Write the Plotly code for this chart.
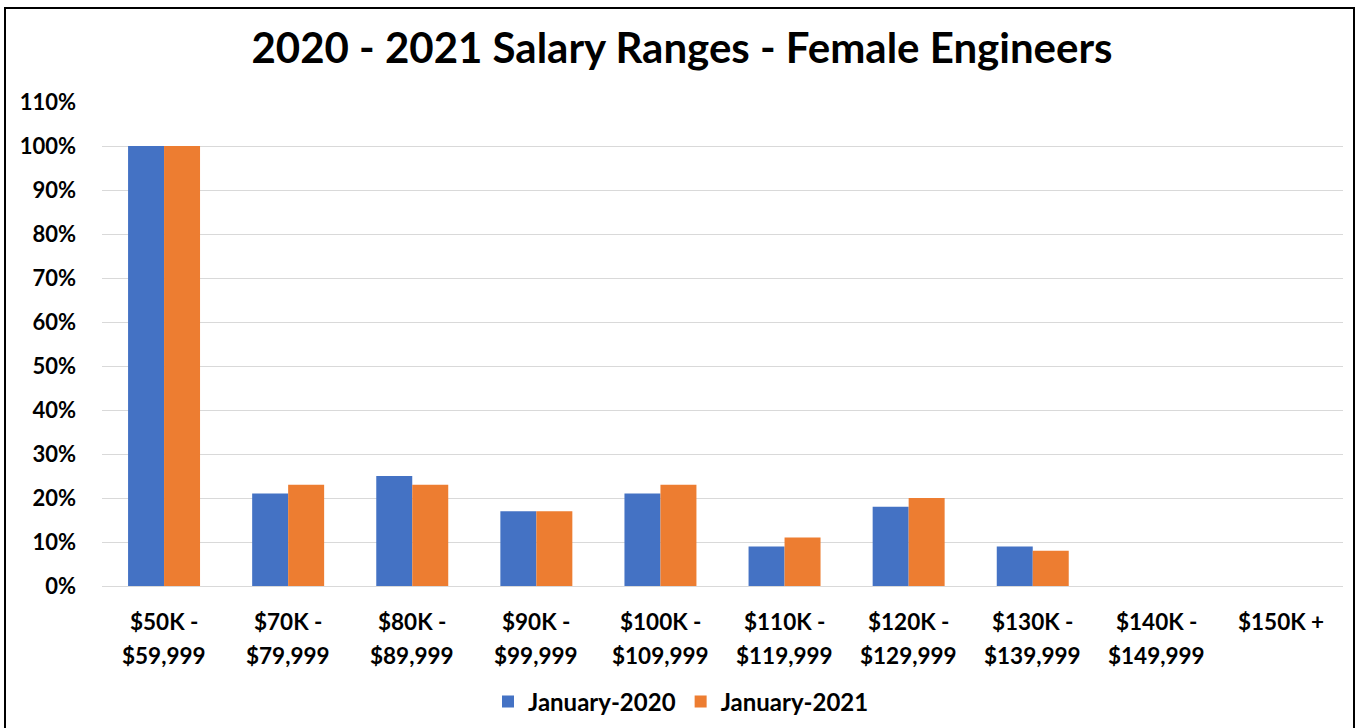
import plotly.graph_objects as go

categories = ["$50K - $59,999", "$70K - $79,999", "$80K - $89,999", "$90K - $99,999",
              "$100K - $109,999", "$110K - $119,999", "$120K - $129,999",
              "$130K - $139,999", "$140K - $149,999", "$150K +"]
label_line1 = ["$50K -", "$70K -", "$80K -", "$90K -", "$100K -", "$110K -",
               "$120K -", "$130K -", "$140K -", "$150K +"]
label_line2 = ["$59,999", "$79,999", "$89,999", "$99,999", "$109,999", "$119,999",
               "$129,999", "$139,999", "$149,999", ""]
jan2020 = [1.00, 0.21, 0.25, 0.17, 0.21, 0.09, 0.18, 0.09, 0, 0]
jan2021 = [1.00, 0.23, 0.23, 0.17, 0.23, 0.11, 0.20, 0.08, 0, 0]
series_names = ["January-2020", "January-2021"]
colors = ["#4472C4", "#ED7D31"]

FONT = "Lato"

fig = go.Figure()
for name, vals, c in zip(series_names, [jan2020, jan2021], colors):
    fig.add_trace(go.Bar(x=categories, y=vals, name=name, marker_color=c,
                         marker_line_width=0))

W, H = 1358, 728
L, R, T, B = 102, 15, 102, 142
pw, ph = W - L - R, H - T - B

def px(x):
    return (x - L) / pw

def py(y):
    return (H - B - y) / ph

fig.update_layout(
    width=W, height=H,
    margin=dict(l=L, r=R, t=T, b=B),
    paper_bgcolor="white", plot_bgcolor="white",
    barmode="group", bargap=0.42, bargroupgap=0,
    font=dict(family=FONT, color="black"),
    title=dict(text="<b>2020 - 2021 Salary Ranges - Female Engineers</b>",
               x=682 / W, xref="container", xanchor="center", y=1 - 48 / H, yanchor="middle",
               font=dict(size=42, family=FONT, color="black")),
    legend=dict(orientation="h", x=681 / W, xanchor="center", xref="container",
                y=1 - 702 / H, yref="container", yanchor="middle",
                font=dict(size=24, family=FONT, color="black", weight="bold"),
                itemwidth=30, tracegroupgap=0),
    showlegend=True,
)
fig.update_yaxes(range=[0, 1.1], dtick=0.1, tickformat=".0%",
                 showgrid=True, gridcolor="#d9d9d9", gridwidth=1,
                 zeroline=False, showline=False, ticks="",
                 ticklabelstandoff=25,
                 tickfont=dict(size=22, family=FONT, color="black", weight="bold"))
fig.update_xaxes(showline=True, linecolor="#d9d9d9", linewidth=1, ticks="",
                 showticklabels=False)

for cat, l1, l2 in zip(categories, label_line1, label_line2):
    for txt, shift in ((l1, -35), (l2, -69)):
        if txt:
            fig.add_annotation(x=cat, xref="x", y=0, yref="paper", yshift=shift,
                               text="<b>" + txt + "</b>", showarrow=False,
                               xanchor="center", yanchor="middle",
                               font=dict(size=22.5, family=FONT, color="black"))

fig.add_shape(type="rect", xref="paper", yref="paper",
              x0=px(5), x1=px(1354), y0=py(760), y1=py(8),
              line=dict(color="black", width=2), fillcolor="rgba(0,0,0,0)", layer="above")

fig.write_html("out.html", config={"displayModeBar": False},
               post_script="document.body.style.margin='0';")
